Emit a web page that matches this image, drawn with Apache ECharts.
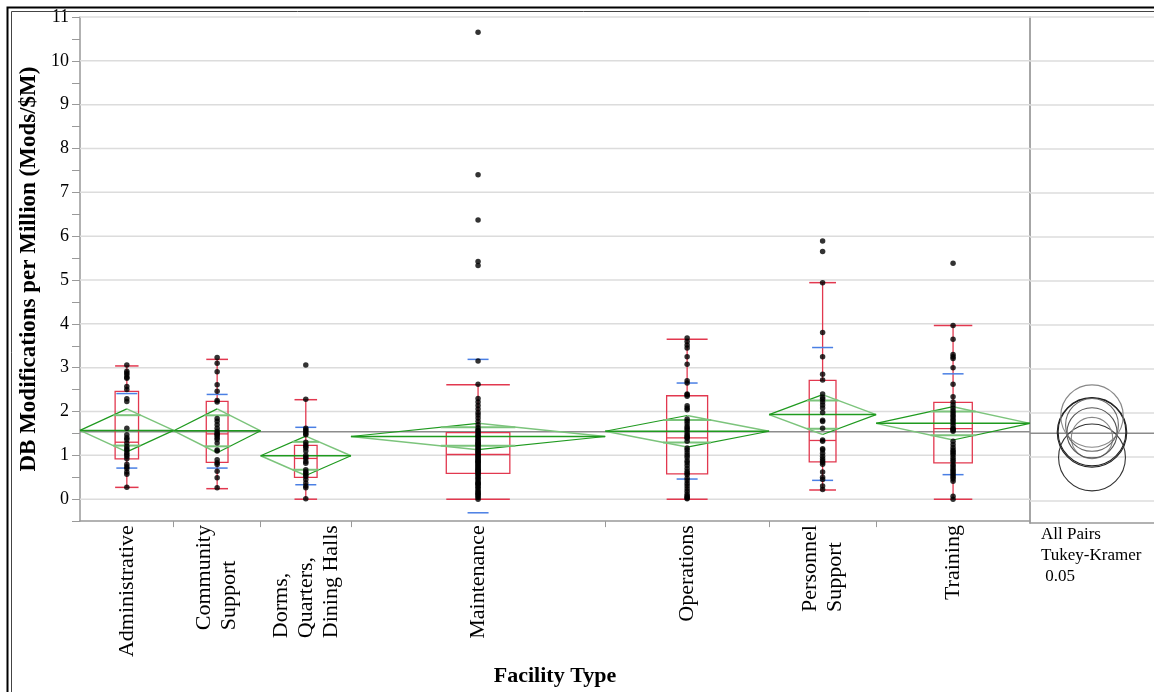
<!DOCTYPE html>
<html><head><meta charset="utf-8">
<script src="https://cdn.jsdelivr.net/npm/echarts@6/dist/echarts.min.js"></script>
<style>html,body{margin:0;padding:0;background:#fff}#c{width:1154px;height:692px}</style>
</head><body><div id="c"></div>
<script>
// ---- data ----
const categories = ['Administrative', 'Community\nSupport', 'Dorms,\nQuarters,\nDining Halls', 'Maintenance', 'Operations', 'Personnel\nSupport', 'Training'];
const groupN = [28, 26, 27, 76, 49, 32, 46];

const ptsAdministrative = [3.06, 2.92, 2.88, 2.84, 2.78, 2.76, 2.57, 2.50, 2.29, 2.23, 1.62, 1.47, 1.40, 1.36, 1.28, 1.21, 1.15, 1.12, 1.06, 1.02, 0.98, 0.92, 0.80, 0.74, 0.70, 0.62, 0.57, 0.27];
const ptsCommunity = [3.23, 3.10, 2.91, 2.61, 2.46, 2.25, 2.22, 1.84, 1.78, 1.70, 1.62, 1.55, 1.50, 1.48, 1.45, 1.40, 1.36, 1.28, 1.12, 1.10, 0.90, 0.83, 0.79, 0.64, 0.49, 0.26];
const ptsDorms = [3.06, 2.28, 1.62, 1.58, 1.55, 1.50, 1.47, 1.30, 1.24, 1.20, 1.17, 1.10, 1.00, 0.96, 0.93, 0.86, 0.82, 0.67, 0.62, 0.60, 0.55, 0.52, 0.45, 0.37, 0.30, 0.26, 0.01];
const ptsMaintenance = [10.65, 7.40, 6.37, 5.42, 5.33, 3.15, 2.62,
  2.30, 2.22, 2.14, 2.06, 1.98, 1.92, 1.85, 1.78, 1.70, 1.63, 1.58, 1.56,
  1.52, 1.49, 1.46, 1.43, 1.40, 1.37, 1.34, 1.31, 1.28, 1.27, 1.25, 1.22, 1.19, 1.16, 1.13, 1.10, 1.08, 1.06, 1.03,
  1.01, 0.98, 0.96, 0.93, 0.91, 0.88, 0.86, 0.85, 0.83, 0.80, 0.78, 0.75, 0.73, 0.70, 0.68, 0.66, 0.64, 0.62, 0.60,
  0.57, 0.54, 0.50, 0.47, 0.44, 0.40, 0.37, 0.35, 0.34, 0.30, 0.27, 0.24, 0.20, 0.17, 0.14, 0.12, 0.10, 0.07, 0.04, 0.00];
const ptsOperations = [3.68, 3.60, 3.52, 3.45, 3.25, 3.08, 2.70, 2.65, 2.40, 2.38, 2.35, 2.13, 2.08, 2.04, 1.83, 1.78, 1.72, 1.66, 1.62, 1.58, 1.52, 1.47, 1.44, 1.41, 1.39, 1.32, 1.17, 1.12, 1.06, 1.00, 0.95, 0.88, 0.83, 0.77, 0.70, 0.64, 0.59, 0.56, 0.48, 0.42, 0.36, 0.30, 0.24, 0.18, 0.12, 0.08, 0.05, 0.03, 0.01];
const ptsPersonnel = [5.89, 5.65, 4.94, 3.80, 3.25, 2.85, 2.72, 2.40, 2.32, 2.28, 2.22, 2.15, 2.08, 1.98, 1.80, 1.77, 1.62, 1.35, 1.32, 1.15, 1.12, 1.05, 0.98, 0.92, 0.88, 0.84, 0.80, 0.62, 0.50, 0.45, 0.30, 0.22];
const ptsTraining = [5.38, 3.96, 3.65, 3.30, 3.25, 3.21, 3.00, 2.62, 2.34, 2.22, 2.15, 2.08, 2.02, 1.97, 1.92, 1.88, 1.83, 1.79, 1.74, 1.68, 1.62, 1.60, 1.58, 1.55, 1.32, 1.25, 1.18, 1.12, 1.09, 1.05, 1.01, 0.95, 0.90, 0.86, 0.79, 0.75, 0.70, 0.66, 0.62, 0.58, 0.54, 0.50, 0.46, 0.41, 0.07, 0.00];

const means      = [1.57, 1.56, 0.99, 1.43, 1.55, 1.93, 1.73];
const ciHalf     = [0.49, 0.50, 0.45, 0.30, 0.36, 0.455, 0.38];
const whiskerLo  = [0.27, 0.24, 0.00, 0.00, 0.00, 0.21, 0.00];
const q1         = [0.92, 0.84, 0.50, 0.59, 0.58, 0.85, 0.83];
const medians    = [1.30, 1.49, 0.93, 1.02, 1.40, 1.34, 1.61];
const q3         = [2.46, 2.23, 1.23, 1.52, 2.36, 2.71, 2.21];
const whiskerHi  = [3.04, 3.19, 2.27, 2.61, 3.65, 4.94, 3.96];
const sdHi       = [2.41, 2.39, 1.64, 3.19, 2.65, 3.46, 2.86];
const sdLo       = [0.71, 0.71, 0.33, -0.31, 0.46, 0.43, 0.56];
const circleRadius = [0.77, 0.79, 0.76, 0.47, 0.57, 0.71, 0.60];
const circleColors = ['#222', '#222', '#333', '#888', '#555', '#888', '#666'];
const grandMean = 1.54;
const yGridValues = [0, 1, 2, 3, 4, 5, 6, 7, 8, 9, 10, 11];

// ---- layout helpers ----
const allPoints = [ptsAdministrative, ptsCommunity, ptsDorms, ptsMaintenance, ptsOperations, ptsPersonnel, ptsTraining];
const starts = []; let acc = 0;
groupN.forEach(n => { starts.push(acc); acc += n; });
const total = acc;
const centers = groupN.map((n, i) => starts[i] + n / 2);
const boundaries = starts.slice(1);

const RED = '#e2384f', BLUE = '#4a7fe4', GREEN = '#1f9a1f', LGREEN = '#7cc47c', GRAY = '#8c8c8c';
const SERIF = '"Liberation Serif", "DejaVu Serif", serif';

const scatterData = [];
allPoints.forEach((arr, i) => arr.forEach(v => scatterData.push([centers[i], v])));

function renderGroup(params, api) {
  const i = api.value(0);
  const n = groupN[i], c = centers[i], left = starts[i], right = starts[i] + n;
  const p = (x, y) => api.coord([x, y]);
  const ch = [];
  const line = (a, b, color, w) => ch.push({ type: 'line', shape: { x1: a[0], y1: a[1], x2: b[0], y2: b[1] }, style: { stroke: color, lineWidth: w } });
  // box
  const bw = n * 0.125;
  const bl = p(c - bw, q3[i]), br = p(c + bw, q1[i]);
  ch.push({ type: 'rect', shape: { x: bl[0], y: bl[1], width: br[0] - bl[0], height: br[1] - bl[1] }, style: { fill: 'none', stroke: RED, lineWidth: 1.3 } });
  line(p(c - bw, medians[i]), p(c + bw, medians[i]), RED, 1.3);
  line(p(c, q3[i]), p(c, whiskerHi[i]), RED, 1.3);
  line(p(c, q1[i]), p(c, whiskerLo[i]), RED, 1.3);
  line(p(c - bw, whiskerHi[i]), p(c + bw, whiskerHi[i]), RED, 1.5);
  line(p(c - bw, whiskerLo[i]), p(c + bw, whiskerLo[i]), RED, 1.5);
  // std dev lines
  const cc = p(c, sdHi[i]), cd = p(c, sdLo[i]);
  line([cc[0] - 10.5, cc[1]], [cc[0] + 10.5, cc[1]], BLUE, 1.5);
  line([cd[0] - 10.5, cd[1]], [cd[0] + 10.5, cd[1]], BLUE, 1.5);
  // means diamond
  const m = means[i], ci = ciHalf[i];
  const L = p(left, m), R = p(right, m), T = p(c, m + ci), B = p(c, m - ci);
  line(L, T, GREEN, 1.2); line(T, R, LGREEN, 1.5);
  line(L, B, LGREEN, 1.5); line(B, R, GREEN, 1.2);
  line(L, R, GREEN, 1.5);
  const ov = ci / Math.SQRT2, hw = (n / 2) * (1 - 1 / Math.SQRT2);
  line(p(c - hw, m + ov), p(c + hw, m + ov), LGREEN, 2);
  line(p(c - hw, m - ov), p(c + hw, m - ov), LGREEN, 2);
  return { type: 'group', children: ch };
}

function hLine(xmin, xmax, color, w) {
  return function (params, api) {
    const v = api.value(0);
    const a = api.coord([xmin, v]), b = api.coord([xmax, v]);
    return { type: 'line', shape: { x1: a[0], y1: a[1], x2: b[0], y2: b[1] }, style: { stroke: color, lineWidth: w } };
  };
}

function renderCircle(params, api) {
  const i = params.dataIndex;
  const ctr = api.coord([api.value(0), api.value(1)]);
  const r = api.size([0, api.value(2)])[1];
  return { type: 'circle', shape: { cx: ctr[0], cy: ctr[1], r: r }, style: { fill: 'none', stroke: circleColors[i], lineWidth: 1.1 } };
}

const yAxisCommon = { type: 'value', min: -0.5, max: 11, interval: 0.5, splitLine: { show: false } };

const option = {
  animation: false,
  backgroundColor: '#fff',
  grid: [
    { left: 80, top: 17, width: 950, height: 506 },
    { left: 1030, top: 17, right: 0, height: 506 }
  ],
  xAxis: [
    {
      type: 'value', gridIndex: 0, min: 0, max: total,
      splitLine: { show: false },
      axisLine: { onZero: false, lineStyle: { color: '#999', width: 1.5 } },
      axisTick: { customValues: boundaries, length: 6, lineStyle: { color: '#999' } },
      axisLabel: {
        customValues: centers, rotate: 90, margin: 4, color: '#000',
        fontFamily: SERIF, fontSize: 22, lineHeight: 25,
        formatter: v => {
          const i = centers.findIndex(c => Math.abs(c - v) < 1e-6);
          return i < 0 ? '' : categories[i].split('\n').map(s => '{l|' + s + '}').join('\n');
        },
        rich: { l: { align: 'left', fontFamily: SERIF, fontSize: 22, lineHeight: 25, color: '#000' } }
      },
      name: 'Facility Type', nameLocation: 'middle', nameGap: 143,
      nameTextStyle: { fontFamily: SERIF, fontWeight: 'bold', fontSize: 22, color: '#000' }
    },
    {
      type: 'value', gridIndex: 1, min: 0, max: 1,
      splitLine: { show: false }, axisTick: { show: false }, axisLabel: { show: false },
      axisLine: { onZero: false, lineStyle: { color: '#999', width: 1.5 } }
    }
  ],
  yAxis: [
    Object.assign({}, yAxisCommon, {
      gridIndex: 0,
      axisLine: { show: true, onZero: false, lineStyle: { color: '#999', width: 1.5 } },
      axisTick: { show: true, length: 8, lineStyle: { color: '#999' } },
      axisLabel: {
        margin: 11, color: '#000', fontFamily: SERIF, fontSize: 18,
        formatter: v => (Math.abs(v - Math.round(v)) < 1e-6 && v >= 0) ? String(Math.round(v)) : ''
      },
      name: 'DB Modifications per Million (Mods/$M)', nameLocation: 'middle', nameGap: 39,
      nameTextStyle: { fontFamily: SERIF, fontWeight: 'bold', fontSize: 23, color: '#000' }
    }),
    Object.assign({}, yAxisCommon, {
      gridIndex: 1,
      axisLine: { show: true, onZero: false, lineStyle: { color: '#888', width: 1.5 } },
      axisTick: { show: false }, axisLabel: { show: false }
    })
  ],
  series: [
    { type: 'custom', xAxisIndex: 0, yAxisIndex: 0, z: 1, silent: true, clip: false,
      renderItem: hLine(0, total, '#dcdcdc', 1.5), data: yGridValues.map(v => [v]) },
    { type: 'custom', xAxisIndex: 1, yAxisIndex: 1, z: 1, silent: true, clip: false,
      renderItem: hLine(0, 1, '#dcdcdc', 1.5), data: yGridValues.map(v => [v]) },
    { type: 'custom', xAxisIndex: 0, yAxisIndex: 0, z: 2, silent: true, clip: false,
      renderItem: hLine(0, total, GRAY, 1.5), data: [[grandMean]] },
    { type: 'custom', xAxisIndex: 1, yAxisIndex: 1, z: 2, silent: true, clip: false,
      renderItem: hLine(0, 1, GRAY, 1.5), data: [[grandMean]] },
    { type: 'custom', xAxisIndex: 0, yAxisIndex: 0, z: 3, silent: true, clip: false,
      renderItem: renderGroup, data: groupN.map((n, i) => [i, means[i]]) },
    { type: 'scatter', xAxisIndex: 0, yAxisIndex: 0, z: 5, silent: true,
      symbol: 'circle', symbolSize: 5.5, itemStyle: { color: '#000' }, data: scatterData },
    { type: 'custom', xAxisIndex: 1, yAxisIndex: 1, z: 4, silent: true, clip: false,
      renderItem: renderCircle, data: means.map((m, i) => [0.5, m, circleRadius[i]]) }
  ],
  graphic: [
    { type: 'rect', left: 5, top: 5, shape: { width: 1300, height: 800 }, style: { fill: 'none', stroke: '#000', lineWidth: 2 }, z: 10, silent: true },
    { type: 'rect', left: 9, top: 9, shape: { width: 1300, height: 800 }, style: { fill: 'none', stroke: '#444', lineWidth: 1 }, z: 10, silent: true },
    { type: 'text', left: 1041, top: 524, z: 10, silent: true,
      style: { text: 'All Pairs\nTukey-Kramer\n 0.05', fill: '#000', fontFamily: SERIF, fontSize: 17, lineHeight: 21 } }
  ]
};

const chart = echarts.init(document.getElementById('c'), null, { renderer: 'canvas' });
chart.setOption(option);
</script>
</body></html>
